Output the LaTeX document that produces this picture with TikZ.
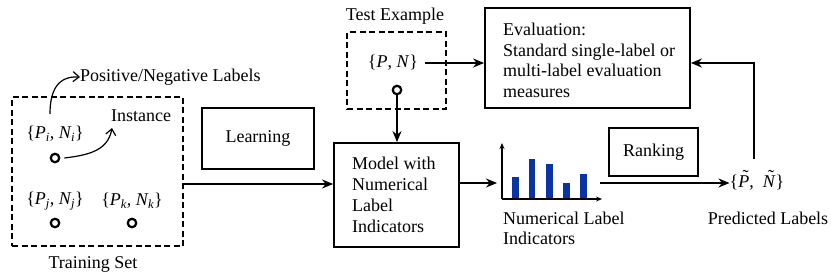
\documentclass[tikz,border=0pt]{standalone}
\usepackage{fontspec}
\setmainfont{Liberation Serif}
\usetikzlibrary{arrows.meta}
\definecolor{barblue}{HTML}{0A33A6}
\newcommand\mytld[1]{\leavevmode\hbox{\ooalign{#1\cr\hidewidth\raisebox{0.28em}{\kern0.2em\char"02DC}\hidewidth\cr}}}
\begin{document}
\begin{tikzpicture}[x=1pt,y=-1pt,
  every node/.style={font=\fontsize{18}{20}\selectfont, inner sep=0pt},
  box/.style={draw, line width=1.8pt},
  dbox/.style={draw, line width=1.8pt, dash pattern=on 6pt off 3.5pt},
  conn/.style={line width=1.6pt, -{Stealth[length=11pt,width=9pt]}},
  curv/.style={line width=1.2pt, -{Straight Barb[length=6pt,width=10pt]}},
  dot/.style={circle, draw, line width=2.2pt, minimum size=8.5pt, inner sep=0pt},
  bar/.style={fill=barblue, draw=none}]
\useasboundingbox (0,0) rectangle (831,276);
% training set
\node[dbox, minimum width=171pt, minimum height=149pt] (train) at (97.5,171.5) {};
\node (trainlbl) at (93,264) {Training Set};
\node (pi) at (55,134) {\{\textit{P\textsubscript{i}}, \textit{N\textsubscript{i}}\}};
\node[dot] (ci) at (55,158) {};
\node (pj) at (55,201) {\{\textit{P\textsubscript{j}}, \textit{N\textsubscript{j}}\}};
\node[dot] (cj) at (55,223) {};
\node (pk) at (132,201) {\{\textit{P\textsubscript{k}}, \textit{N\textsubscript{k}}\}};
\node[dot] (ck) at (132,223) {};
\node (inst) at (141,116) {Instance};
\node[anchor=west] (posneg) at (80,77) {Positive/Negative Labels};
\coordinate (instend) at (112,128);
\coordinate (pnstart) at (50,114);
\draw[curv] (ci.east)++(4,0) .. controls (90,155) and (108,150) .. (instend);
\draw[curv] (pnstart) .. controls (50,90) and (58,76) .. (posneg.west);
% learning
\node[box, minimum width=112pt, minimum height=61pt] (learn) at (258,138.5) {Learning};
% model
\node[box, minimum width=125pt, minimum height=104pt] (model) at (396.5,195) {};
\node[anchor=west, align=left, font=\fontsize{18}{21}\selectfont] (modeltxt) at (352,195) {Model with\\Numerical\\Label\\Indicators};
\draw[conn] (train.east |- 0,184) -- (model.west |- 0,184);
% test example
\node[dbox, minimum width=99pt, minimum height=77pt] (test) at (396.5,70.5) {};
\node (testlbl) at (395,16) {Test Example};
\node (pn) at (393,63) {\{\textit{P}, \textit{N}\}};
\node[dot] (cpn) at (397,90) {};
\draw[conn] (cpn.south) -- (model.north -| cpn);
% evaluation
\node[box, minimum width=205pt, minimum height=100pt] (eval) at (587.5,58) {};
\node[anchor=west, align=left, font=\fontsize{18}{20.5}\selectfont] (evaltxt) at (503,60.5) {Evaluation:\\Standard single-label or\\multi-label evaluation\\measures};
\draw[conn] (pn.east)++(7,0) -- (eval.west |- pn);
% chart
\coordinate (origin) at (502,199);
\coordinate (ytop) at (502,143);
\coordinate (xend) at (602,199);
\draw[line width=1.4pt, -{Stealth[length=6pt,width=5pt]}] (origin) -- (ytop);
\draw[line width=1.4pt, -{Stealth[length=6pt,width=5pt]}] (origin) -- (xend);
\fill[bar] (512,177) rectangle (518.5,198);
\fill[bar] (528.5,159) rectangle (535,198);
\fill[bar] (546,164) rectangle (552.5,198);
\fill[bar] (563,183) rectangle (569.5,198);
\fill[bar] (580,174) rectangle (586.5,198);
\node[anchor=west, align=left] (nli) at (503,228) {Numerical Label\\Indicators};
\draw[conn] (model.east |- 0,183) -- (497,183);
% ranking
\node[box, minimum width=89pt, minimum height=48pt] (rank) at (653.5,152) {Ranking};
\node (pred) at (757,183) {\{\mytld{\textit{P}},\enspace\mytld{\textit{N}}\}};
\node (predlbl) at (768,218) {Predicted Labels};
\coordinate (rankstart) at (600,183);
\draw[conn] (rankstart) -- (pred.west);
\draw[conn] (754,159) -- (754,63) -- (eval.east |- 0,63);
\end{tikzpicture}
\end{document}
